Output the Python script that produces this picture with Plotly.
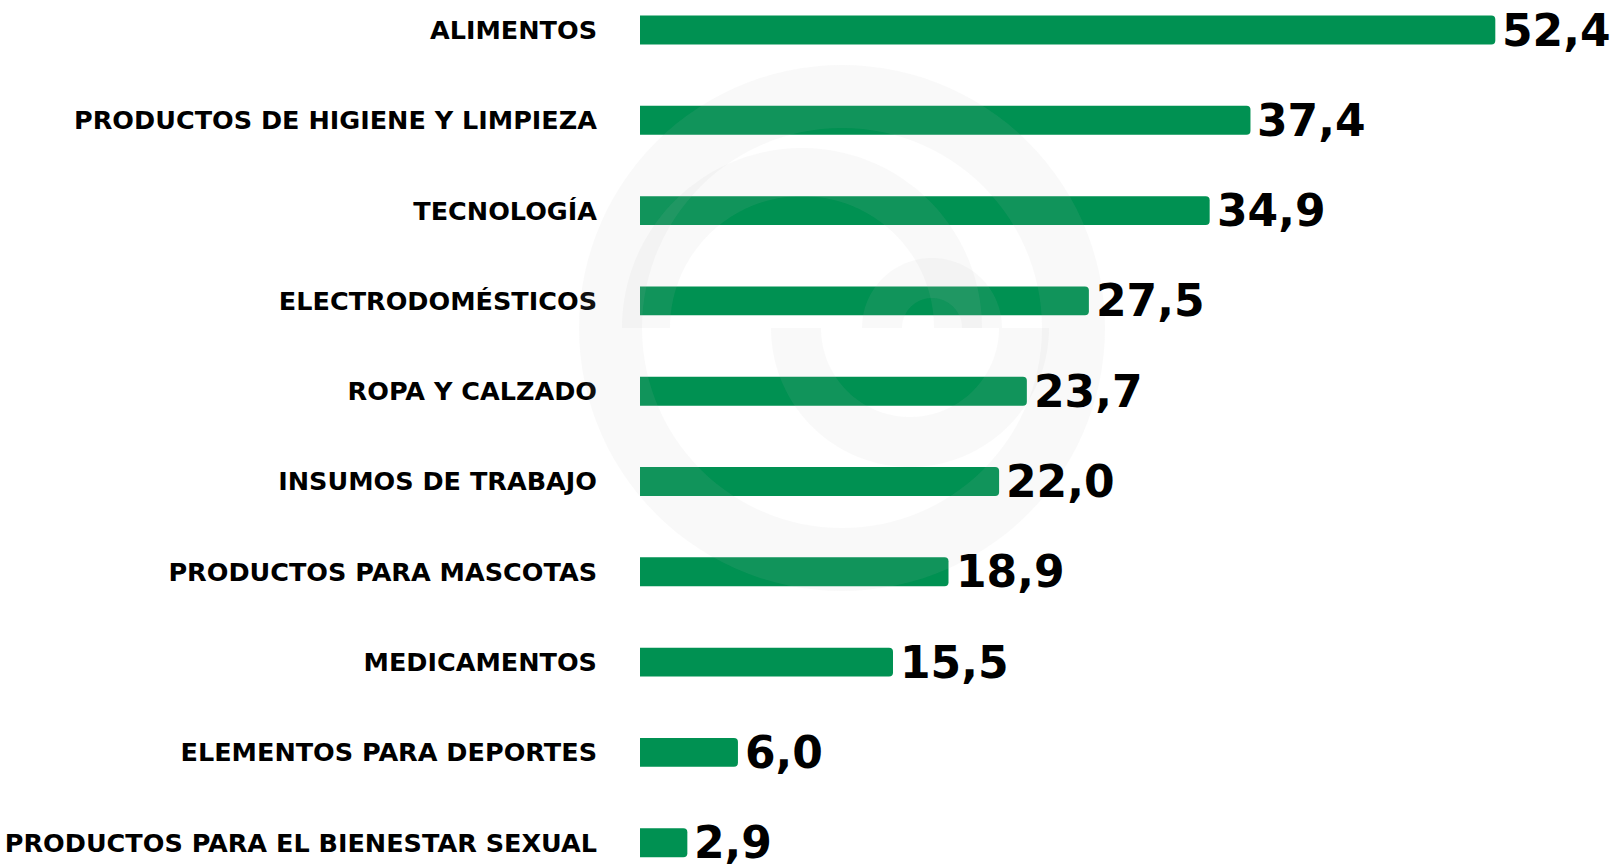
import math
import plotly.graph_objects as go

categories = [
    "ALIMENTOS",
    "PRODUCTOS DE HIGIENE Y LIMPIEZA",
    "TECNOLOGÍA",
    "ELECTRODOMÉSTICOS",
    "ROPA Y CALZADO",
    "INSUMOS DE TRABAJO",
    "PRODUCTOS PARA MASCOTAS",
    "MEDICAMENTOS",
    "ELEMENTOS PARA DEPORTES",
    "PRODUCTOS PARA EL BIENESTAR SEXUAL",
]
values = [52.4, 37.4, 34.9, 27.5, 23.7, 22.0, 18.9, 15.5, 6.0, 2.9]
value_labels = [f"{v:.1f}".replace(".", ",") for v in values]

GREEN = "#009152"
FONT = "DejaVu Sans"

W, H = 1621, 868
L = 640
PW, PH = W - L, H

fig = go.Figure()
fig.add_trace(go.Bar(
    x=values,
    y=categories,
    orientation="h",
    width=0.32,
    marker=dict(color=GREEN, cornerradius=4, line=dict(width=0)),
    hoverinfo="skip",
))

for cat, v, lab in zip(categories, values, value_labels):
    fig.add_annotation(
        x=v, y=cat, xref="x", yref="y",
        text=lab, showarrow=False,
        xanchor="left", yanchor="middle", xshift=5, yshift=0,
        font=dict(family=FONT, size=44, color="#000000", weight="bold"),
    )

fig.update_layout(
    width=W, height=H,
    margin=dict(l=L, r=0, t=0, b=0, pad=0),
    plot_bgcolor="white",
    paper_bgcolor="white",
    showlegend=False,
    xaxis=dict(range=[0, 60.1], visible=False, fixedrange=True),
    yaxis=dict(
        range=[9.28, -0.3322],
        categoryorder="array", categoryarray=categories,
        showgrid=False, zeroline=False, showline=False,
        ticks="", ticklabelstandoff=42,
        tickfont=dict(family=FONT, size=25.5, color="#000000", weight="bold"),
        fixedrange=True,
    ),
)

# faint circular watermark drawn over the bars
wm_color = "rgba(185,185,185,0.09)"

def px_to_paper(x, y):
    return (x - L) / PW, 1 - y / PH

def arc_pts(cx, cy, r, a0, a1, n=120):
    return [(cx + r * math.cos(math.radians(a0 + (a1 - a0) * i / n)),
             cy + r * math.sin(math.radians(a0 + (a1 - a0) * i / n))) for i in range(n + 1)]

def annulus(cx, cy, ro, ri, a0=0, a1=360):
    pts = arc_pts(cx, cy, ro, a0, a1) + arc_pts(cx, cy, ri, a1, a0)
    return "M " + " L ".join("{:.5f},{:.5f}".format(*px_to_paper(x, y)) for x, y in pts) + " Z"

CX, CY = 842, 328
for path in [
    annulus(CX, CY, 263, 200),                  # outer ring
    annulus(CX + 68, CY, 139, 89, 0, 180),       # lower arc
    annulus(CX - 40, CY, 180, 132, 180, 360),    # upper arc
    annulus(CX + 90, CY, 70, 30, 180, 360),      # small upper arc
]:
    fig.add_shape(type="path", xref="paper", yref="paper", path=path,
                  fillcolor=wm_color, line=dict(width=0), layer="above")

fig.write_html(
    "out.html",
    config={"displayModeBar": False},
    post_script="document.body.style.margin='0';document.body.style.overflow='hidden';",
)
